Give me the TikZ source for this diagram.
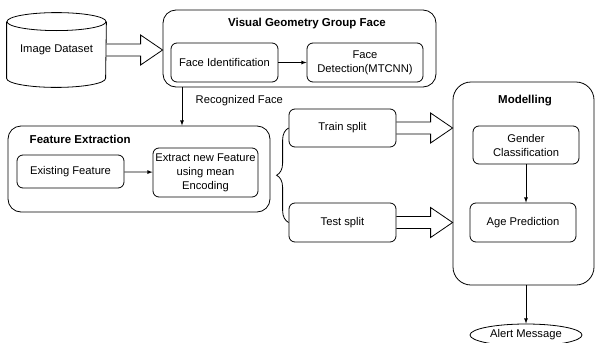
\documentclass[tikz,border=0pt]{standalone}
\usepackage{fontspec}
\setmainfont{Liberation Sans}
\usetikzlibrary{calc,shapes.geometric,decorations.pathreplacing}
\tikzstyle{block} = [draw, rounded corners=6pt, align=center, inner sep=1pt, font=\fontsize{11.2}{14}\selectfont]
\tikzstyle{group} = [draw, rounded corners=13pt]
\tikzstyle{title} = [font=\bfseries\fontsize{11.5}{13}\selectfont]
% hollow arrow, tip on the x of #2 and the y of #1
\newcommand{\fatarrow}[2]{\draw ($(#1)+(0,-6)$) -- ($(#1 -| #2)+(-22,-6)$) -- ($(#1 -| #2)+(-22,-15)$) -- (#1 -| #2) -- ($(#1 -| #2)+(-22,15)$) -- ($(#1 -| #2)+(-22,6)$) -- ($(#1)+(0,6)$);}

\begin{document}
\begin{tikzpicture}[x=1pt, y=-1pt, >=latex, line width=0.8pt, font=\fontsize{11.2}{14}\selectfont]
    \useasboundingbox (0,0) rectangle (595,343);
    % dataset
    \draw (56.5,50) node[minimum width=99pt, minimum height=74pt, inner sep=0pt] (ds) {Image Dataset};
    \draw ([yshift=-9pt]ds.north west) -- ([yshift=9pt]ds.south west) arc[start angle=180, end angle=0, x radius=49.5, y radius=9] -- ([yshift=-9pt]ds.north east);
    \draw ([yshift=-9pt]ds.north) ellipse[x radius=49.5, y radius=9];
    % groups
    \draw (299.5,48.5) node[group, minimum width=273pt, minimum height=77pt] (vgg) {};
    \node[title] at (307,24) {Visual Geometry Group Face};
    \draw (139,169) node[group, minimum width=262pt, minimum height=86pt] (fe) {};
    \node[title, anchor=west] at (26,139) {Feature Extraction};
    \draw (523.5,183.5) node[group, rounded corners=18pt, minimum width=141pt, minimum height=203pt] (md) {};
    \node[title] at (525,101) {Modelling};
    % blocks
    \draw (224.5,62.5) node[block, minimum width=107pt, minimum height=39pt] (fi) {Face Identification};
    \draw (365,62.5) node[block, minimum width=116pt, minimum height=39pt] (fd) {Face\\Detection(MTCNN)};
    \draw (70.5,171.5) node[block, minimum width=107pt, minimum height=33pt] (ef) {Existing Feature};
    \draw (205.5,172.5) node[block, minimum width=105pt, minimum height=49pt] (en) {Extract new Feature\\using mean\\Encoding};
    \draw (342.5,128) node[block, minimum width=107pt, minimum height=38pt] (tr) {Train split};
    \draw (342.5,222.5) node[block, minimum width=107pt, minimum height=39pt] (ts) {Test split};
    \draw (526,145) node[block, minimum width=106pt, minimum height=38pt] (gc) {Gender\\Classification};
    \draw (523,222.5) node[block, minimum width=106pt, minimum height=39pt] (ap) {Age Prediction};
    \draw (526,335) node[draw, ellipse, minimum width=112pt, minimum height=22pt, inner sep=0pt] (am) {Alert Message};
    % connectors
    \coordinate (rf) at (182,0);
    \fatarrow{ds.east}{vgg.west}
    \fatarrow{tr.east}{md.west}
    \fatarrow{ts.east}{md.west}
    \draw [->] (fi) -- (fd);
    \draw [->] (ef) -- (en);
    \draw [->] (vgg.south -| rf) -- node [right=10pt, pos=0.35] {Recognized Face} (fe.north -| rf);
    \draw [decorate, decoration={brace, amplitude=12pt}] (ts.west) -- (tr.west);
    \draw [->] (gc.south) -- (gc.south |- ap.north);
    \draw [->] (am.north |- md.south) -- (am.north);
\end{tikzpicture}
\end{document}
